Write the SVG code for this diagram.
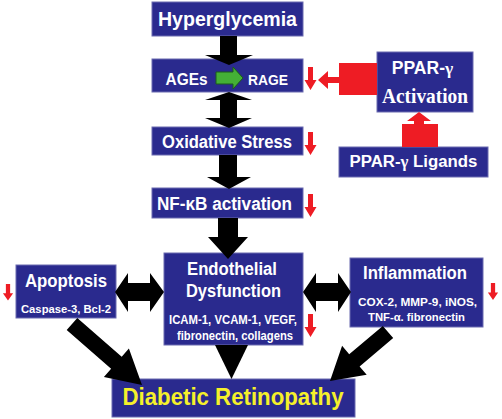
<svg xmlns="http://www.w3.org/2000/svg" xmlns:xlink="http://www.w3.org/1999/xlink" width="502" height="419" viewBox="0 0 502 419">
<style>
.box{fill:#2a2a8e;stroke:#6b6bb0;stroke-width:1}
.t{font-family:"Liberation Sans",Arial,sans-serif;font-weight:bold;fill:#ffffff;text-anchor:middle}
.s{font-family:"Liberation Serif","Times New Roman",serif;font-weight:bold}
.blk{fill:#000000}
.red{fill:#ee1c24}
</style>
<defs>
<path id="dn" d="M-2.5,0 h5 v13 h3.5 l-6,10 l-6,-10 h3.5 z" fill="#ee1c24"/>
</defs>
<rect width="502" height="419" fill="#ffffff"/>

<g id="hyperglycemia"><rect class="box" x="152" y="2" width="151" height="34"/><text class="t" x="227.5" y="26" font-size="19.5" textLength="139" lengthAdjust="spacingAndGlyphs">Hyperglycemia</text></g>

<g id="ages"><rect class="box" x="152" y="59" width="151" height="33"/>
<text class="t" x="186.5" y="85" font-size="17" textLength="42" lengthAdjust="spacingAndGlyphs">AGEs</text>
<text class="t" x="268" y="85" font-size="15" textLength="40" lengthAdjust="spacingAndGlyphs">RAGE</text>
<path d="M216,72 H233 V67 L243,78 L233,89 V84 H216 Z" fill="#44b036" stroke="#1a5c1a" stroke-width="1"/>
</g>

<g id="oxidative"><rect class="box" x="152" y="127" width="151" height="28"/><text class="t" x="227" y="148" font-size="17.5" textLength="130" lengthAdjust="spacingAndGlyphs">Oxidative Stress</text></g>

<g id="nfkb"><rect class="box" x="152" y="188" width="151" height="30"/><text class="t" x="224.5" y="210" font-size="17.5" textLength="135" lengthAdjust="spacingAndGlyphs">NF-κB activation</text></g>

<g id="endothelial"><rect class="box" x="164" y="253" width="139" height="92"/>
<text class="t" x="232" y="275" font-size="18" textLength="90" lengthAdjust="spacingAndGlyphs">Endothelial</text>
<text class="t" x="233.5" y="297" font-size="18" textLength="95" lengthAdjust="spacingAndGlyphs">Dysfunction</text>
<text class="t" x="233" y="324" font-size="12" textLength="128" lengthAdjust="spacingAndGlyphs">ICAM-1, VCAM-1, VEGF,</text>
<text class="t" x="235" y="340" font-size="12" textLength="116" lengthAdjust="spacingAndGlyphs">fibronectin, collagens</text>
</g>

<g id="apoptosis"><rect class="box" x="16" y="265" width="100" height="53"/>
<text class="t" x="66" y="287" font-size="18" textLength="82" lengthAdjust="spacingAndGlyphs">Apoptosis</text>
<text class="t" x="66" y="313" font-size="11.5" textLength="90" lengthAdjust="spacingAndGlyphs">Caspase-3, Bcl-2</text>
</g>

<g id="inflammation"><rect class="box" x="350" y="258" width="133" height="69"/>
<text class="t" x="415" y="279" font-size="18" textLength="104" lengthAdjust="spacingAndGlyphs">Inflammation</text>
<text class="t" x="417.5" y="306" font-size="11.5" textLength="119" lengthAdjust="spacingAndGlyphs">COX-2, MMP-9, iNOS,</text>
<text class="t" x="416.5" y="321" font-size="11.5" textLength="97" lengthAdjust="spacingAndGlyphs">TNF-α. fibronectin</text>
</g>

<g id="ppar-activation"><rect class="box" x="377" y="52" width="96" height="60"/>
<text class="t" x="422.5" y="74" font-size="17.5">PPAR-<tspan class="s">γ</tspan></text>
<text class="t s" x="425" y="103" font-size="21" textLength="86" lengthAdjust="spacingAndGlyphs">Activation</text>
</g>

<g id="ppar-ligands"><rect class="box" x="339" y="147" width="149" height="30"/>
<text class="t" x="413.5" y="167" font-size="16.8">PPAR-<tspan class="s">γ</tspan> Ligands</text>
</g>

<g id="diabetic-retinopathy"><rect class="box" x="112" y="379" width="243" height="38"/>
<text class="t" x="233" y="405" font-size="24" textLength="221" lengthAdjust="spacingAndGlyphs" style="fill:#f5f02a">Diabetic Retinopathy</text>
</g>

<g id="connectors">
<polygon class="blk" points="220,36 237,36 237,55 253,55 229,65 205,55 220,55"/>
<polygon class="blk" points="229,92 252,100 237,100 237,118 252,118 229,128 205,118 220,118 220,100 205,100"/>
<polygon class="blk" points="219,155 237,155 237,177 251,177 229,189 207,177 219,177"/>
<polygon class="blk" points="218,218 238,218 238,237 248,237 228,259 208,237 218,237"/>
<polygon class="blk" points="115,292 128,273 128,283 150,283 150,273 164,292 150,312 150,301 128,301 128,312"/>
<polygon class="blk" points="303,292 316,273 316,283 338,283 338,273 351,292 338,312 338,301 316,301 316,312"/>
<polygon class="blk" points="77.3,318 121.7,356.7 128.9,348.4 142,385 103.9,377 111.1,368.7 66.7,330"/>
<polygon class="blk" points="215,345 248,345 231.5,379"/>
<polygon class="blk" points="382.8,325.9 349.2,354.2 342.1,345.8 330,381 366.7,374.8 359.6,366.4 393.2,338.1"/>
<polygon class="red" points="377,63 377,95 339,95 339,83 328,83 328,89 318,80 328,71 328,77 339,77 339,63"/>
<polygon class="red" points="402,147 402,124 414,124 414,121 407,121 419,112 431,121 424,121 424,124 438,124 438,147"/>
<use xlink:href="#dn" x="310.5" y="67"/>
<use xlink:href="#dn" x="310.5" y="132"/>
<use xlink:href="#dn" x="310.5" y="194"/>
<use xlink:href="#dn" x="310.5" y="314"/>
<use xlink:href="#dn" transform="translate(8,284) scale(0.85,0.72)"/>
<use xlink:href="#dn" transform="translate(493,283) scale(0.85,0.74)"/>
</g>
</svg>
